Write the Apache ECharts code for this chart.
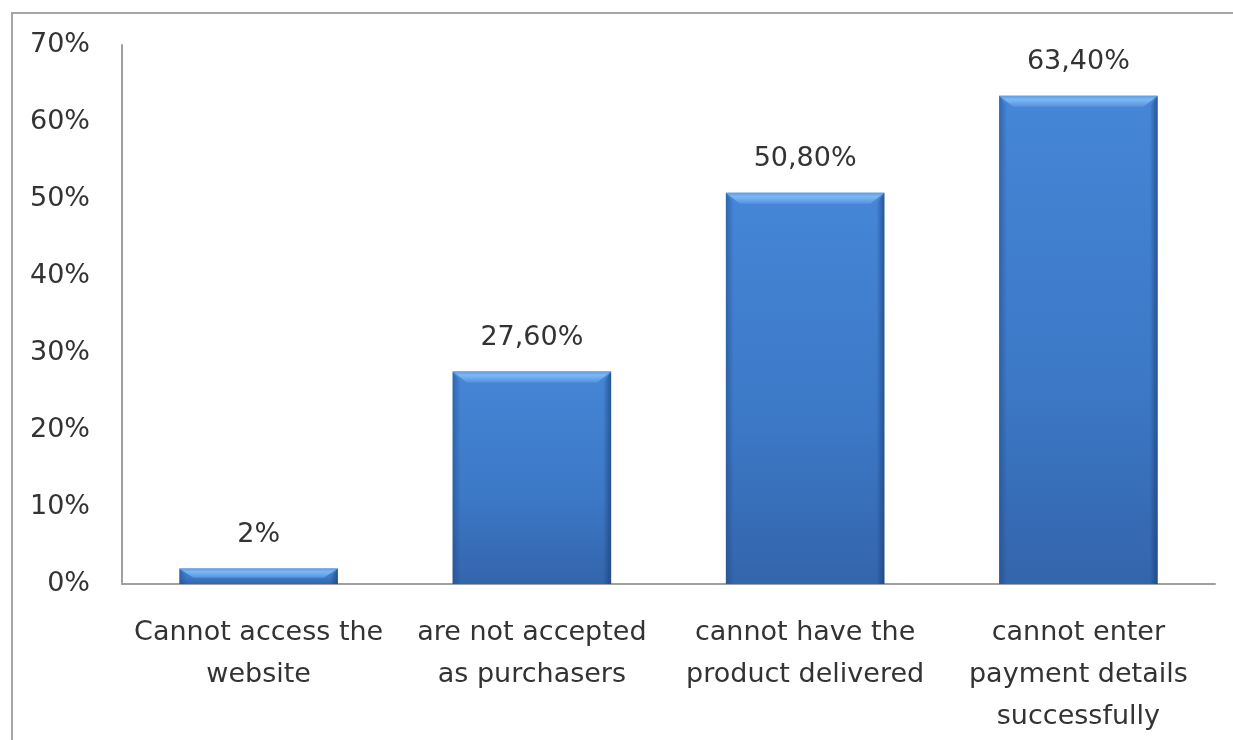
<!DOCTYPE html>
<html>
<head>
<meta charset="utf-8">
<script src="https://cdn.jsdelivr.net/npm/echarts@6/dist/echarts.min.js"></script>
<style>
  html, body { margin: 0; padding: 0; background: #ffffff; }
  #frame {
    position: absolute; left: 11px; top: 12px; right: 0; bottom: 0;
    border-left: 2px solid #a6a6a6; border-top: 2px solid #a6a6a6;
  }
  #chart { position: absolute; left: 0; top: 0; width: 1233px; height: 740px; }
</style>
</head>
<body>
<div id="frame"></div>
<div id="chart"></div>
<script>
// Reasons an online purchase fails
const categories = [
  'Cannot access the\nwebsite',
  'are not accepted\nas purchasers',
  'cannot have the\nproduct delivered',
  'cannot enter\npayment details\nsuccessfully'
];
const shares = [2, 27.6, 50.8, 63.4];
const yTicks = { min: 0, max: 70, interval: 10 };

const FONT = '"DejaVu Sans", sans-serif';
const TEXT = '#333333';
const FONT_SIZE = 27;

function pct(v) {
  return Number.isInteger(v) ? v + '%' : v.toFixed(2).replace('.', ',') + '%';
}

// Bevelled bar: darker sides, lighter chamfered top edge
function renderBar(params, api) {
  const idx = api.value(0);
  const val = api.value(1);
  const top = api.coord([idx, val]);
  const base = api.coord([idx, 0]);
  const w = api.size([1, 0])[0] * 0.58;
  const x0 = top[0] - w / 2, x1 = top[0] + w / 2;
  const y0 = top[1], y1 = base[1];
  const h = y1 - y0;
  const b = Math.min(11, h * 0.6);
  const side = 8;

  const body = {
    type: 'rect',
    shape: { x: x0, y: y0, width: w, height: h },
    style: {
      fill: new echarts.graphic.LinearGradient(0, 0, 0, 1, [
        { offset: 0, color: '#4586d6' },
        { offset: 0.6, color: '#3c78c6' },
        { offset: 1, color: '#3365ab' }
      ])
    }
  };
  const leftEdge = {
    type: 'polygon',
    shape: { points: [[x0, y0], [x0 + side, y0 + b], [x0 + side, y1], [x0, y1]] },
    style: {
      fill: new echarts.graphic.LinearGradient(0, 0, 1, 0, [
        { offset: 0, color: 'rgba(30,70,130,0.5)' },
        { offset: 1, color: 'rgba(30,70,130,0)' }
      ])
    }
  };
  const rightEdge = {
    type: 'polygon',
    shape: { points: [[x1, y0], [x1 - side, y0 + b], [x1 - side, y1], [x1, y1]] },
    style: {
      fill: new echarts.graphic.LinearGradient(1, 0, 0, 0, [
        { offset: 0, color: 'rgba(25,60,115,0.65)' },
        { offset: 1, color: 'rgba(25,60,115,0)' }
      ])
    }
  };
  const topBevel = {
    type: 'polygon',
    shape: { points: [[x0, y0], [x1, y0], [x1 - side - 6, y0 + b], [x0 + side + 6, y0 + b]] },
    style: {
      fill: new echarts.graphic.LinearGradient(0, 0, 0, 1, [
        { offset: 0, color: '#5e9ee6' },
        { offset: 0.35, color: '#7db8f4' },
        { offset: 1, color: '#5592de' }
      ])
    }
  };
  const label = {
    type: 'text',
    style: {
      text: pct(val),
      x: top[0], y: y0 - 20,
      align: 'center', verticalAlign: 'bottom',
      font: FONT_SIZE + 'px ' + FONT,
      fill: TEXT
    }
  };
  return { type: 'group', children: [body, leftEdge, rightEdge, topBevel, label] };
}

const chart = echarts.init(document.getElementById('chart'), null, { renderer: 'canvas' });
chart.setOption({
  backgroundColor: 'transparent',
  animation: false,
  grid: { left: 122, right: 18, top: 45, bottom: 156, containLabel: false },
  xAxis: {
    type: 'category',
    data: categories,
    axisLine: { show: true, lineStyle: { color: '#a0a0a0', width: 2 } },
    axisTick: { show: false },
    axisLabel: {
      interval: 0,
      margin: 28,
      fontFamily: FONT,
      fontSize: FONT_SIZE,
      lineHeight: 42,
      color: TEXT
    }
  },
  yAxis: {
    type: 'value',
    min: yTicks.min,
    max: yTicks.max,
    interval: yTicks.interval,
    axisLine: { show: true, lineStyle: { color: '#a0a0a0', width: 2 } },
    axisTick: { show: false },
    splitLine: { show: false },
    axisLabel: {
      formatter: '{value}%',
      margin: 32,
      fontFamily: FONT,
      fontSize: FONT_SIZE,
      color: TEXT
    }
  },
  series: [{
    type: 'custom',
    renderItem: renderBar,
    encode: { x: 0, y: 1 },
    data: shares.map((v, i) => [i, v])
  }]
});
</script>
</body>
</html>
